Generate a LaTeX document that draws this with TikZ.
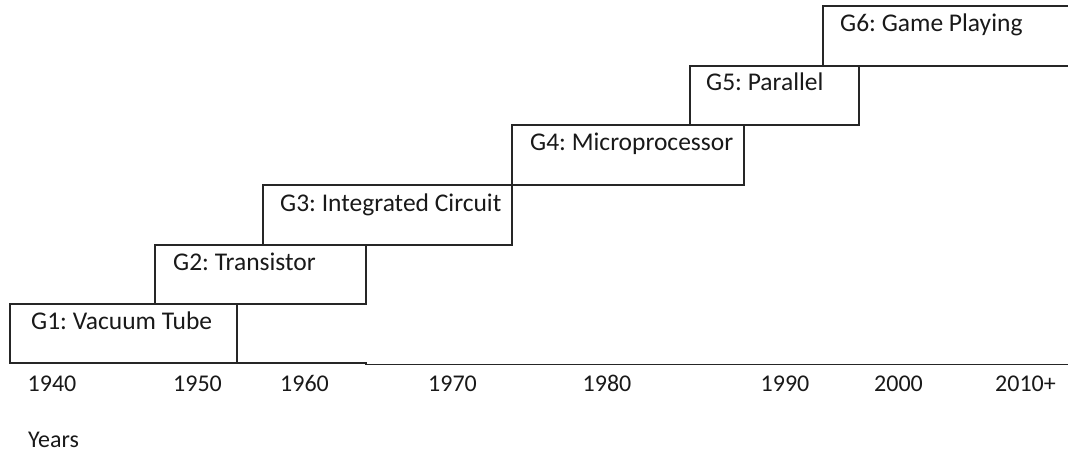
\documentclass[tikz,border=0pt]{standalone}
\usepackage{fontspec}
\setmainfont{Carlito}
\frenchspacing
\usetikzlibrary{calc}
\tikzset{
  genbox/.style={draw=black!85, line width=1.5pt, rectangle, inner sep=0pt, outer sep=0pt},
  lbl/.style={anchor=base west, inner sep=0pt, text=black!90, font=\fontsize{25.5}{29}\selectfont},
  yr/.style={anchor=base west, inner sep=0pt, text=black!90, font=\fontsize{24}{28}\selectfont},
  axis/.style={draw=black!85, line width=1.5pt}
}
\begin{document}
\begin{tikzpicture}[x=1pt,y=-1pt]
\useasboundingbox (0,0) rectangle (1068,451);
\clip (0,0) rectangle (1068,451);
% generation boxes
\node[genbox, minimum width=227pt, minimum height=59pt] (g1) at (123.5,333.5) {};
\node[genbox, minimum width=211pt, minimum height=59pt] (g2) at (260.5,274.5) {};
\node[genbox, minimum width=249pt, minimum height=60pt] (g3) at (387.5,215) {};
\node[genbox, minimum width=232pt, minimum height=60pt] (g4) at (628,155) {};
\node[genbox, minimum width=169pt, minimum height=59pt] (g5) at (774.5,95.5) {};
\node[genbox, minimum width=250pt, minimum height=60pt] (g6) at (948,36) {};
% labels
\node[lbl] (t1) at ($(g1.north west)+(21,25)$) {G1: Vacuum Tube};
\node[lbl] (t2) at ($(g2.north west)+(18,25)$) {G2: Transistor};
\node[lbl] (t3) at ($(g3.north west)+(17,26)$) {G3: Integrated Circuit};
\node[lbl] (t4) at ($(g4.north west)+(18,25)$) {G4: Microprocessor};
\node[lbl] (t5) at ($(g5.north west)+(16,24.5)$) {G5: Parallel};
\node[lbl] (t6) at ($(g6.north west)+(17,25.5)$) {G6: Game Playing};
% axis line
\coordinate (axisend) at (1068,364.5);
\draw[axis] (g1.south west) -- (g2.south east |- g1.south) -- (g2.south east |- axisend) -- (axisend);
% years
\node[yr] (y1940) at (27.5,391) {1940};
\node[yr] (y1950) at (173,391) {1950};
\node[yr] (y1960) at (280,391) {1960};
\node[yr] (y1970) at (428,391) {1970};
\node[yr] (y1980) at (582.5,391) {1980};
\node[yr] (y1990) at (760.5,391) {1990};
\node[yr] (y2000) at (874,391) {2000};
\node[yr] (y2010) at (995,391) {2010+};
\node[yr] (years) at (28,447) {Years};
\end{tikzpicture}
\end{document}
